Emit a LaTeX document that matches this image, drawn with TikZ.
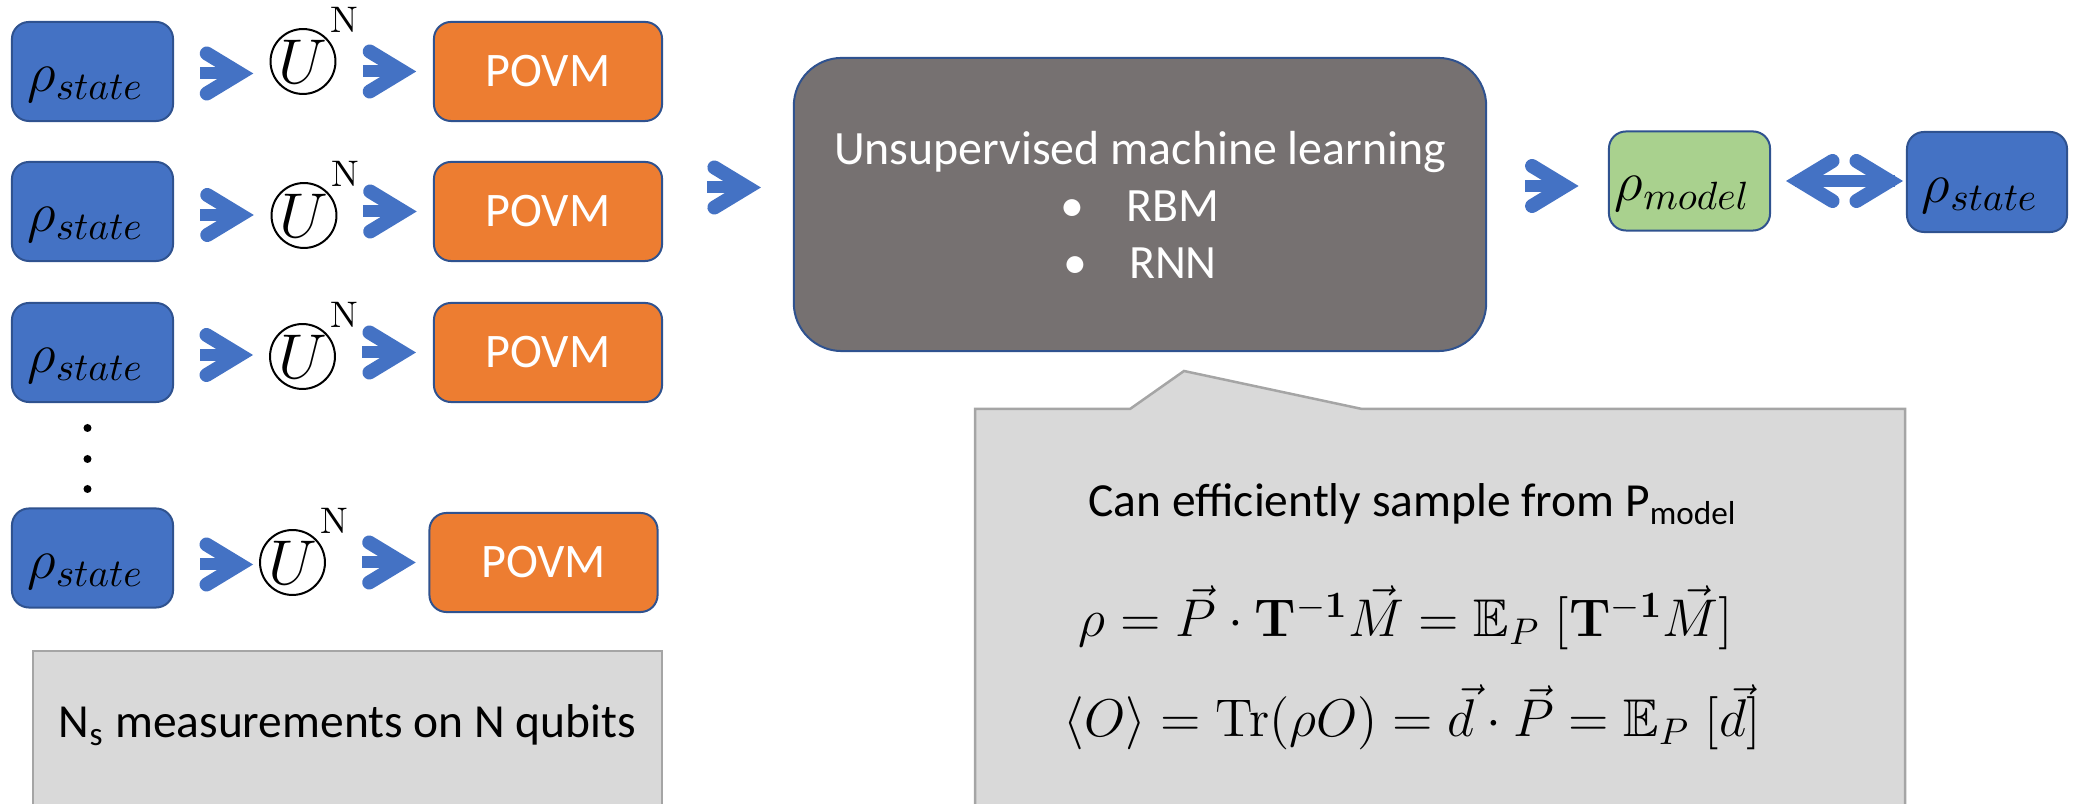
\RequirePackage{fix-cm}
\documentclass[tikz,border=0pt]{standalone}
\usepackage{amsmath,amssymb}
\usepackage[no-math]{fontspec}
\newfontfamily\calibri{Carlito}
\usetikzlibrary{calc}

\definecolor{arrowblue}{HTML}{4472C4}
\definecolor{boxblue}{HTML}{4472C4}
\definecolor{edgeblue}{HTML}{2F528F}
\definecolor{povmorange}{HTML}{ED7D31}
\definecolor{modelgreen}{HTML}{A9D18E}
\definecolor{mlgray}{HTML}{767171}
\definecolor{notegray}{HTML}{D9D9D9}
\definecolor{noteedge}{HTML}{A5A5A5}

\tikzset{
  chevdx/.initial=5,
  chevdy/.initial=0,
  chevline/.style={draw=arrowblue, line width=0.14cm, line cap=round, line join=miter},
  chevstem/.style={fill=arrowblue, draw=none, inner sep=0pt, outer sep=0pt,
    minimum width=0.3cm, minimum height=0.12cm, anchor=west},
  % single chevron arrow placed in the gap between two nodes;
  % #1 = 1 takes the height of the start node, 2 that of the target node
  chev/.style={chevline, to path={
    let \p1=(\tikztostart.east), \p2=(\tikztotarget.west),
        \p3=({(\x1+\x2)/2+(\pgfkeysvalueof{/tikz/chevdx})*0.28453pt},
             {\y#1-(\pgfkeysvalueof{/tikz/chevdy})*0.28453pt}) in
    ($(\p3)+(-20,-20)$) -- ($(\p3)+(13,0)$) -- ($(\p3)+(-20,20)$)
    ($(\p3)+(-27,0)$) node[chevstem]{}
  }},
  % double chevron arrow
  dchev/.style={chevline, to path={
    let \p1=(\tikztostart.east), \p2=(\tikztotarget.west),
        \p3=({(\x1+\x2)/2+(\pgfkeysvalueof{/tikz/chevdx})*0.28453pt},
             {\y1-(\pgfkeysvalueof{/tikz/chevdy})*0.28453pt}) in
    ($(\p3)+(-12,-20)$) -- ($(\p3)+(-45,0)$) -- ($(\p3)+(-12,20)$)
    ($(\p3)+(12,-20)$) -- ($(\p3)+(45,0)$) -- ($(\p3)+(12,20)$)
    ($(\p3)+(-50,0)$) node[chevstem, minimum width=1.0cm]{}
  }},
  statebox/.style={draw=edgeblue, line width=0.02cm, fill=boxblue, rounded corners=0.17cm,
    minimum width=1.61cm, minimum height=0.99cm, inner sep=0pt,
    text height=0.5cm, text depth=0.1cm, font=\fontsize{16}{18}\selectfont},
  modelbox/.style={statebox, fill=modelgreen},
  povmbox/.style={draw=edgeblue, line width=0.02cm, fill=povmorange, rounded corners=0.17cm,
    minimum width=2.28cm, minimum height=0.99cm, inner sep=0pt, text=white,
    font=\calibri\fontsize{13.7}{15}\selectfont},
  unode/.style={circle, draw, line width=0.02cm, minimum size=0.64cm, inner sep=0pt,
    font=\fontsize{18}{20}\selectfont},
  nsup/.style={inner sep=0pt, anchor=base west, font=\fontsize{10.5}{12}\selectfont},
  mlbox/.style={draw=edgeblue, line width=0.02cm, fill=mlgray, rounded corners=0.48cm,
    minimum width=6.92cm, minimum height=2.93cm, text=white, align=center,
    font=\calibri\fontsize{13.6}{16.2}\selectfont},
  notebox/.style={draw=noteedge, line width=0.025cm, fill=notegray},
  notetext/.style={inner sep=0pt, anchor=base, font=\calibri\fontsize{13.5}{15}\selectfont},
  mathtext/.style={inner sep=0pt, anchor=base, font=\fontsize{15.1}{18}\selectfont},
}

\begin{document}
\begin{tikzpicture}[x=0.01cm, y=-0.01cm]
\useasboundingbox (0,0) rectangle (2075,804);
\clip (0,0) rectangle (2075,804);

% notes
\draw[notebox] (33,651) -- (33,830) -- (662,830) -- (662,651) -- cycle;
\draw[notebox] (975,830) -- (975,409) -- (1130,409) -- (1184,371) -- (1362,409)
  -- (1905,409) -- (1905,830) -- cycle;
\node[notetext] (ns) at (347.5,738) {N\textsubscript{s} measurements on N qubits};
\node[notetext] (eff) at (1413,517) {Can efficiently sample from P\textsubscript{model}};
\node[mathtext] (f1) at (1406,637)
  {$\rho = \vec{P}\cdot\mathbf{T}^{-\mathbf{1}}\vec{M} = \mathbb{E}_P\;[\mathbf{T}^{-\mathbf{1}}\vec{M}]$};
\node[mathtext] (f2) at (1412,737)
  {$\langle O\rangle = \mathrm{Tr}(\rho O) = \vec{d}\cdot\vec{P} = \mathbb{E}_P\;[\vec{d}]$};

% measurement rows
\node[statebox] (s1) at (92.5,71.5)  {$\rho_{state}$\hspace*{0.14cm}};
\node[statebox] (s2) at (92.5,211.5) {$\rho_{state}$\hspace*{0.14cm}};
\node[statebox] (s3) at (92.5,352.5) {$\rho_{state}$\hspace*{0.14cm}};
\node[statebox] (s4) at (92.5,558)   {$\rho_{state}$\hspace*{0.14cm}};

\node[unode] (u1) at (303,61.5)  {$U$};
\node[unode] (u2) at (304,215.5) {$U$};
\node[unode] (u3) at (302.5,356.5) {$U$};
\node[unode] (u4) at (292.5,562.5) {$U$};
\node[nsup] (n1) at ($(u1.center)+(27,-28.5)$) {N};
\node[nsup] (n2) at ($(u2.center)+(27,-28.5)$) {N};
\node[nsup] (n3) at ($(u3.center)+(27,-28.5)$) {N};
\node[nsup] (n4) at ($(u4.center)+(27,-28.5)$) {N};

\node[povmbox] (p1) at (548,71.5)  {POVM};
\node[povmbox] (p2) at (548,211.5) {POVM};
\node[povmbox] (p3) at (548,352.5) {POVM};
\node[povmbox] (p4) at (543.5,562.5) {POVM};

\draw[chev=1, chevdy=2]   (s1) to (u1);
\draw[chev=1, chevdy=3.5] (s2) to (u2);
\draw[chev=1, chevdy=2.5] (s3) to (u3);
\draw[chev=1, chevdy=6.5, chevdx=10] (s4) to (u4);
\draw[chev=2] (u1) to (p1);
\draw[chev=2] (u2) to (p2);
\draw[chev=2] (u3) to (p3);
\draw[chev=2, chevdx=12] (u4) to (p4);

% vertical ellipsis
\fill (87.5,428) circle (0.04cm);
\fill (87.5,459) circle (0.04cm);
\fill (87.5,489) circle (0.04cm);

% learning stage
\node[inner sep=0pt, outer sep=0pt, minimum size=0pt] (fanin) at (662,187.5) {};
\node[mlbox] (ml) at (1140,204.5)
  {Unsupervised machine learning\\
   \textbullet\hspace{0.42cm}RBM\\
   \textbullet\hspace{0.42cm}RNN};
\node[modelbox] (model) at (1689.5,181) {$\rho_{model}$\hspace*{0.14cm}};
\node[statebox, minimum width=1.6cm, minimum height=1.0cm] (target) at (1987,182)
  {$\rho_{state}$\hspace*{0.14cm}};

\draw[chev=1, chevdx=7] (fanin) to (ml);
\draw[chev=2, chevdx=4.5, chevdy=5] (ml) to (model);
\draw[dchev, chevdx=6] (model) to (target);
\end{tikzpicture}
\end{document}
